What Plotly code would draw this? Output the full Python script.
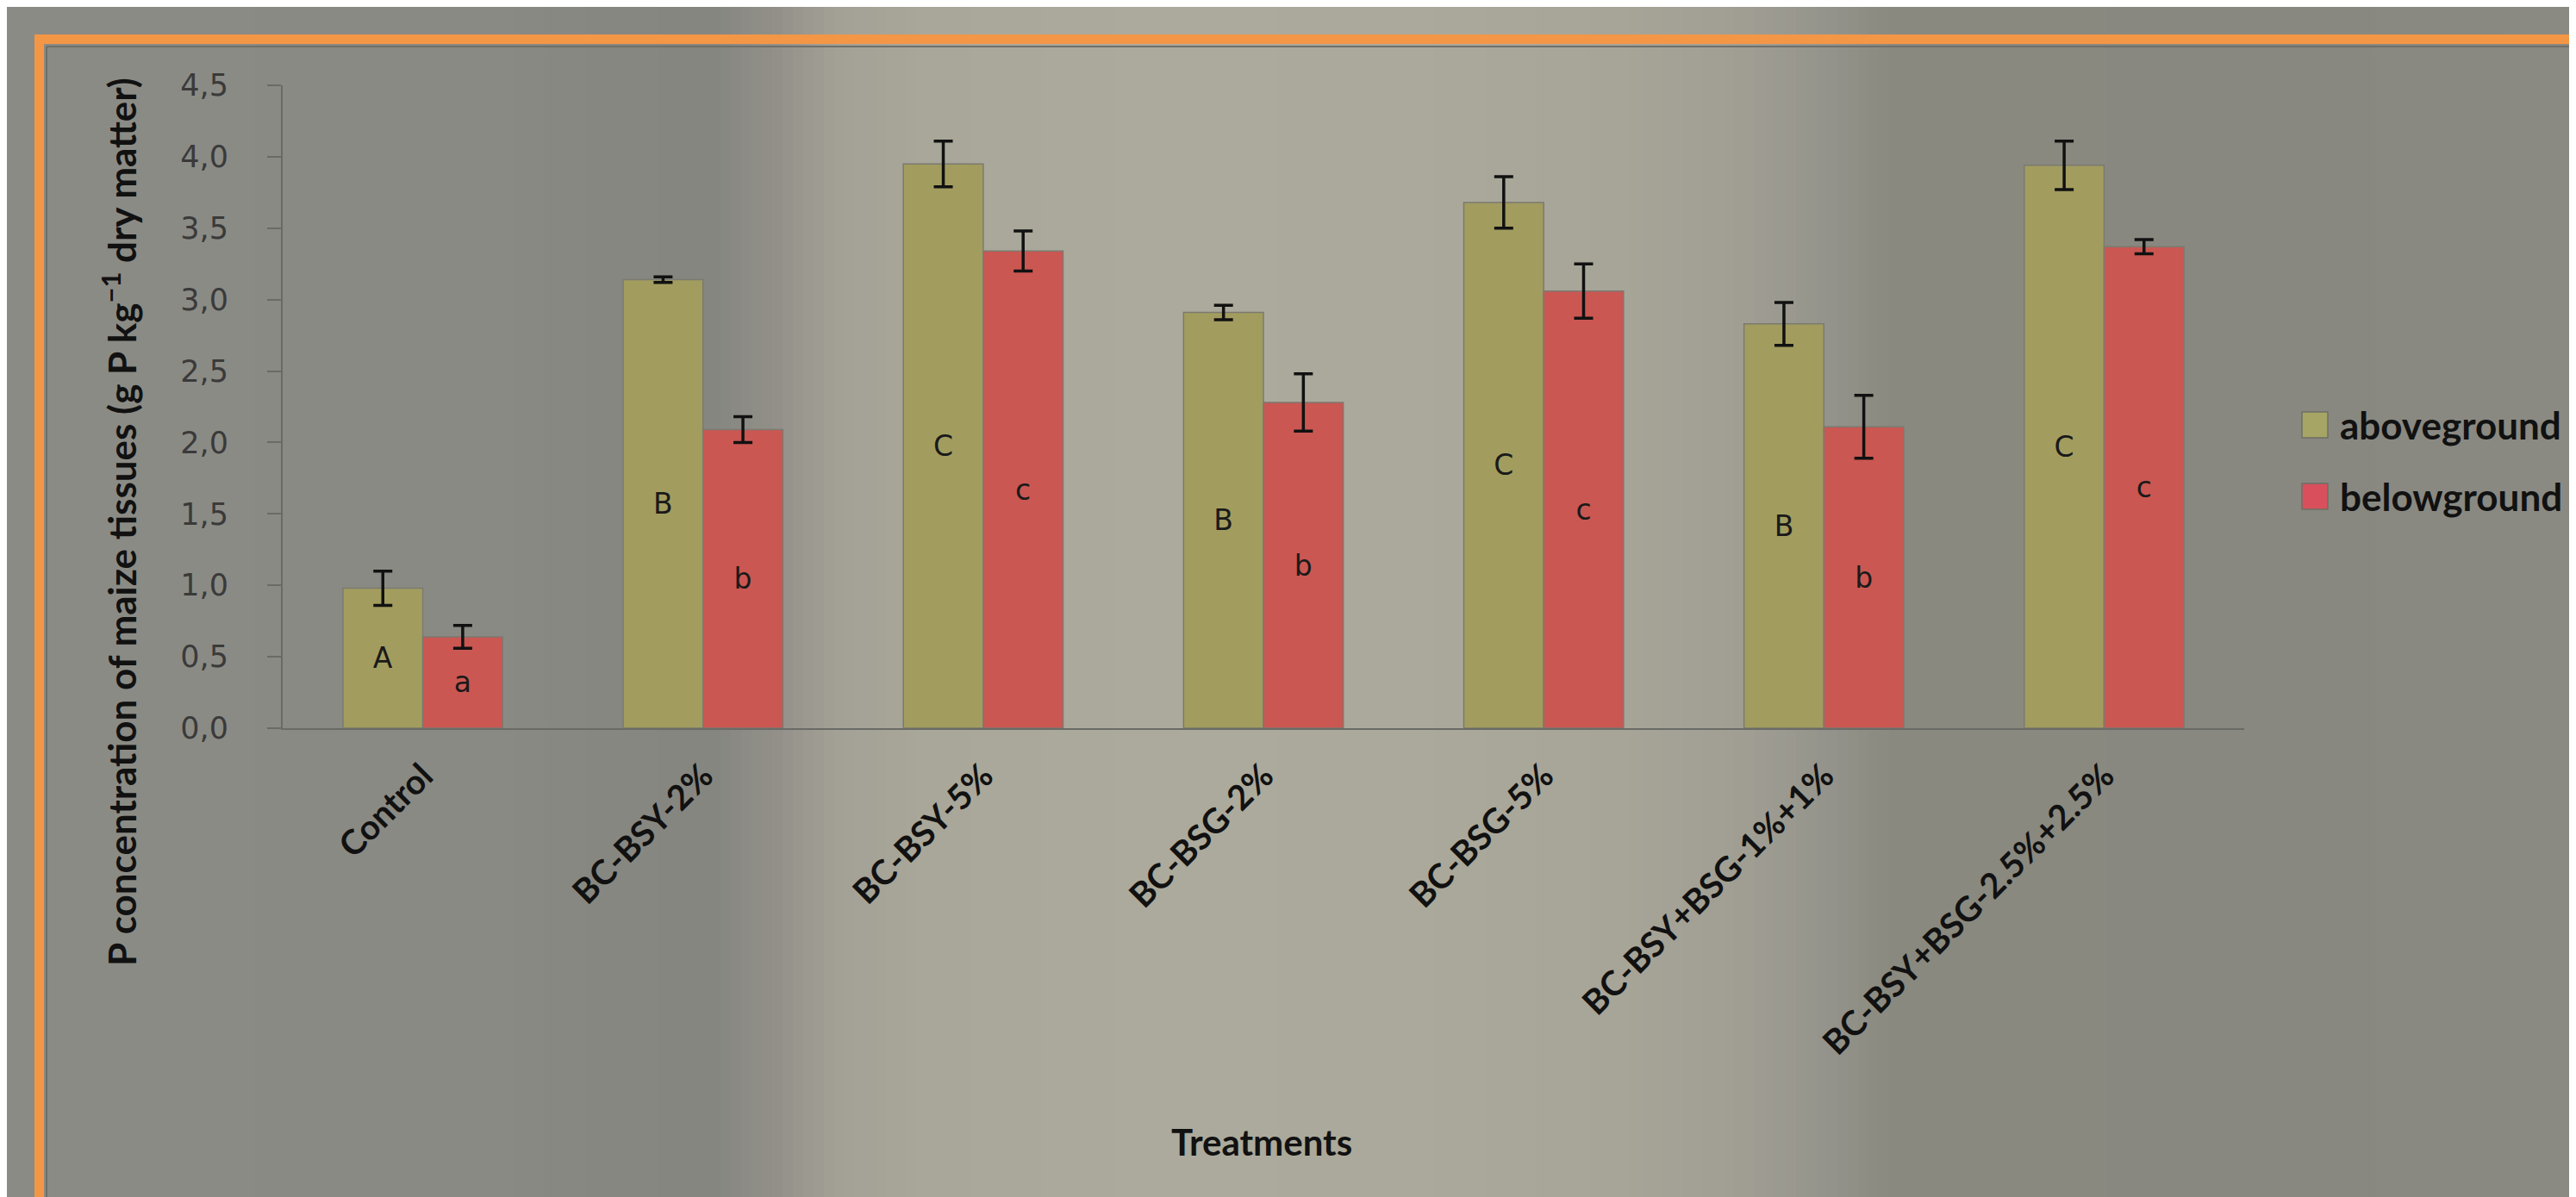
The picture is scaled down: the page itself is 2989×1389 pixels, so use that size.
import plotly.graph_objects as go

# ---------------- data ----------------
categories = ["Control", "BC-BSY-2%", "BC-BSY-5%", "BC-BSG-2%", "BC-BSG-5%",
              "BC-BSY+BSG-1%+1%", "BC-BSY+BSG-2.5%+2.5%"]
above = [0.98, 3.14, 3.95, 2.91, 3.68, 2.83, 3.94]
above_err = [0.12, 0.02, 0.16, 0.05, 0.18, 0.15, 0.17]
below = [0.64, 2.09, 3.34, 2.28, 3.06, 2.11, 3.37]
below_err = [0.08, 0.09, 0.14, 0.20, 0.19, 0.22, 0.05]
letters_above = ["A", "B", "C", "B", "C", "B", "C"]
letters_below = ["a", "b", "c", "b", "c", "b", "c"]
series_names = ["aboveground", "belowground"]

# ---------------- layout geometry ----------------
W, H = 2989, 1389
L, R, T, B = 320, 393, 91, 552
PW, PH = W - L - R, H - T - B

def px(x):
    return (x - L) / PW

def py(y):
    return (H - B - y) / PH

C_ABOVE = "#a29d5f"
C_BELOW = "#cb5752"

fig = go.Figure()
fig.add_trace(go.Bar(
    x=categories, y=above, name=series_names[0],
    marker=dict(color=C_ABOVE, line=dict(color="#7b7a70", width=1.5)),
    error_y=dict(type="data", array=above_err, color="#111111", thickness=3.5, width=11),
    text=letters_above, textposition="inside", insidetextanchor="middle",
    textfont=dict(family="DejaVu Sans", size=33, color="#1a1a1a"),
    constraintext="none", showlegend=False,
))
fig.add_trace(go.Bar(
    x=categories, y=below, name=series_names[1],
    marker=dict(color=C_BELOW, line=dict(color="#7b7a70", width=1.5)),
    error_y=dict(type="data", array=below_err, color="#111111", thickness=3.5, width=11),
    text=letters_below, textposition="inside", insidetextanchor="middle",
    textfont=dict(family="DejaVu Sans", size=33, color="#1a1a1a"),
    constraintext="none", showlegend=False,
))

shapes = []

# soft background imitation: horizontal colour profile drawn as thin vertical strips
profile = [(0, "#8b8b85"), (300, "#8a8a84"), (360, "#878781"), (430, "#868680"),
           (470, "#929089"), (505, "#a3a196"), (560, "#a9a799"), (700, "#acaa9c"),
           (850, "#aba99b"), (980, "#a7a598"), (1060, "#a09e93"), (1110, "#94938b"),
           (1150, "#89897f"), (1400, "#888881"), (1568, "#8a8a83")]

def hex2rgb(h):
    return tuple(int(h[i:i + 2], 16) for i in (1, 3, 5))

def color_at(xs):
    for (x0, c0), (x1, c1) in zip(profile[:-1], profile[1:]):
        if x0 <= xs <= x1:
            t = (xs - x0) / (x1 - x0) if x1 > x0 else 0
            a, b = hex2rgb(c0), hex2rgb(c1)
            return "rgb(%d,%d,%d)" % tuple(round(a[i] + (b[i] - a[i]) * t) for i in range(3))
    return profile[-1][1]

s = 1.906
step = 12
for xf in range(0, W, step):
    shapes.append(dict(type="rect", xref="paper", yref="paper",
                       x0=px(xf), x1=px(xf + step + 1), y0=py(-5), y1=py(H + 5),
                       fillcolor=color_at((xf + step / 2) / s), line=dict(width=0), layer="below"))

# orange frame (top and left, running off the page right/bottom)
shapes.append(dict(type="rect", xref="paper", yref="paper",
                   x0=px(32), x1=px(W + 20), y0=py(32), y1=py(43),
                   fillcolor="#f39646", line=dict(width=0), layer="below"))
shapes.append(dict(type="rect", xref="paper", yref="paper",
                   x0=px(32), x1=px(43), y0=py(32), y1=py(H + 20),
                   fillcolor="#f39646", line=dict(width=0), layer="below"))
# thin inner grey border
shapes.append(dict(type="line", xref="paper", yref="paper",
                   x0=px(46), x1=px(W + 20), y0=py(46), y1=py(46),
                   line=dict(color="#6f6f6a", width=2), layer="below"))
shapes.append(dict(type="line", xref="paper", yref="paper",
                   x0=px(46), x1=px(46), y0=py(46), y1=py(H + 20),
                   line=dict(color="#6f6f6a", width=2), layer="below"))

# custom legend swatches
leg_colors = ["#a6a565", "#d9505c"]
leg_y = [485, 568]
for c, yc in zip(leg_colors, leg_y):
    shapes.append(dict(type="rect", xref="paper", yref="paper",
                       x0=px(2663), x1=px(2693), y0=py(yc - 15), y1=py(yc + 15),
                       fillcolor=c, line=dict(color="#6d6d66", width=1.5)))

annotations = []
for name, yc in zip(series_names, leg_y):
    annotations.append(dict(text=name, xref="paper", yref="paper", x=px(2705), y=py(yc),
                            xanchor="left", yanchor="middle", showarrow=False,
                            font=dict(family="Lato", size=44, color="#111111", weight="bold")))
annotations.append(dict(text="Treatments", xref="paper", yref="paper",
                        x=px(1456), y=py(1317), xanchor="center", yanchor="middle",
                        showarrow=False,
                        font=dict(family="Lato", size=42, color="#111111", weight="bold")))
annotations.append(dict(text="P concentration of maize tissues (g P kg<sup>\u22121</sup> dry matter)",
                        xref="paper", yref="paper", x=px(130), y=py(598),
                        xanchor="center", yanchor="middle", textangle=-90, showarrow=False,
                        font=dict(family="Lato", size=44, color="#111111", weight="bold")))

fig.update_layout(
    width=W, height=H,
    margin=dict(l=L, r=R, t=T, b=B, autoexpand=False),
    paper_bgcolor="#8b8b84", plot_bgcolor="rgba(0,0,0,0)",
    barmode="group", bargap=0.43, bargroupgap=0.0,
    separators=", ",
    shapes=shapes, annotations=annotations,
    showlegend=False,
)
fig.update_xaxes(
    showline=True, linecolor="#6b6b66", linewidth=2, showgrid=False, zeroline=False,
    ticks="", tickangle=-45, ticklabelstandoff=14,
    tickfont=dict(family="Lato", size=40, color="#111111", weight="bold"),
    range=[-0.5, 6.5],
)
fig.update_yaxes(
    range=[0, 4.5], dtick=0.5, tickformat=".1f",
    showline=True, linecolor="#6b6b66", linewidth=2, showgrid=False, zeroline=False,
    ticks="outside", ticklen=16, tickwidth=2, tickcolor="#6b6b66", ticklabelstandoff=38,
    tickfont=dict(family="DejaVu Sans", size=35, color="#3a3a3a"),
)

fig.write_html("out.html")
